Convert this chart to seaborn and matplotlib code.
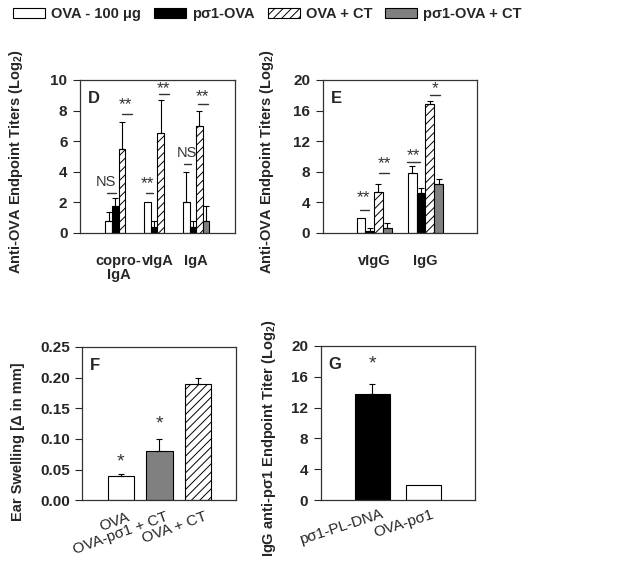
import numpy as np
import pandas as pd
import seaborn as sns
import matplotlib.pyplot as plt
from matplotlib.patches import Patch
from matplotlib.container import BarContainer
from matplotlib.transforms import ScaledTranslation

# treatment groups shared by panels D and E
treatments = ["OVA - 100 μg", "pσ1-OVA", "OVA + CT", "pσ1-OVA + CT"]
tr_colors = ["white", "black", "white", "#808080"]
tr_hatch = ["", "", "////", ""]

# panel D - IgA titers (mean, upper error)
d_groups = ["copro-\nIgA", "vIgA", "IgA"]
d_ova = [0.8, 2.0, 2.0]
d_ova_err = [0.6, 0.0, 2.0]
d_p1ova = [1.75, 0.4, 0.4]
d_p1ova_err = [0.55, 0.4, 0.4]
d_ovact = [5.5, 6.5, 7.0]
d_ovact_err = [1.75, 2.2, 1.0]
d_p1ovact = [np.nan, np.nan, 0.8]
d_p1ovact_err = [np.nan, np.nan, 0.95]

# panel E - IgG titers
e_groups = ["vIgG", "IgG"]
e_ova = [1.9, 7.9]
e_ova_err = [0.0, 0.8]
e_p1ova = [0.2, 5.2]
e_p1ova_err = [0.45, 0.7]
e_ovact = [5.3, 16.8]
e_ovact_err = [1.1, 0.5]
e_p1ovact = [0.65, 6.4]
e_p1ovact_err = [0.6, 0.6]

# panel F - ear swelling
f_groups = ["OVA", "OVA-pσ1 + CT", "OVA + CT"]
f_vals = [0.04, 0.08, 0.19]
f_err = [0.002, 0.02, 0.01]

# panel G - anti-pσ1 IgG
g_groups = ["pσ1-PL-DNA", "OVA-pσ1"]
g_vals = [13.8, 2.0]
g_err = [1.3, 0.0]

sns.set_style("ticks")
plt.rcParams['font.family'] = ['Liberation Sans', 'DejaVu Sans']
plt.rcParams['mathtext.fontset'] = 'custom'
plt.rcParams['mathtext.rm'] = 'Liberation Sans:bold'
plt.rcParams['hatch.color'] = 'black'
plt.rcParams['hatch.linewidth'] = 0.7
plt.rcParams['axes.edgecolor'] = '#333333'
plt.rcParams['axes.linewidth'] = 0.9

fig = plt.figure(figsize=(6.34, 5.71), dpi=100)
axD = fig.add_axes([0.126, 0.592, 0.2445, 0.268])
axE = fig.add_axes([0.509, 0.592, 0.243, 0.268])
axF = fig.add_axes([0.130, 0.124, 0.243, 0.2685])
axG = fig.add_axes([0.506, 0.124, 0.243, 0.2705])

ylab = "Anti-OVA Endpoint Titers (Log$_2$)"


def bar_sets(ax):
    return [c for c in ax.containers if isinstance(c, BarContainer)]


def add_errors(ax, errs):
    for hi, cont in enumerate(bar_sets(ax)):
        for bar in cont:
            x = bar.get_x() + bar.get_width() / 2
            e = errs[hi][int(round(x))]
            if e > 0:
                ax.errorbar(x, bar.get_height(), yerr=[[0], [e]], color='black',
                            lw=0.8, capsize=2.5, capthick=0.8)


def grouped(ax, groups, series, errs):
    df = pd.DataFrame({"group": groups * 4,
                       "treatment": np.repeat(treatments, len(groups)),
                       "value": np.concatenate(series)})
    sns.barplot(data=df, x="group", y="value", hue="treatment", order=groups,
                hue_order=treatments, palette=tr_colors, saturation=1, width=0.68,
                edgecolor="black", linewidth=0.8, errorbar=None, legend=False, ax=ax)
    for hi, cont in enumerate(bar_sets(ax)):
        for bar in cont:
            bar.set_hatch(tr_hatch[hi])
    add_errors(ax, errs)


def style(ax, ylim, yticks, label, xlim):
    ax.set_ylim(*ylim)
    ax.set_yticks(yticks)
    ax.set_xlim(*xlim)
    ax.set_xlabel("")
    ax.set_ylabel(label, fontsize=10.5, fontweight='bold')
    ax.tick_params(axis='y', length=5, width=0.8, pad=4, labelsize=11)
    for t in ax.get_yticklabels():
        t.set_fontweight('bold')


def mark(ax, text, x, y, x0, x1, yl, size=12.5):
    ax.text(x, y, text, ha='center', va='center', fontsize=size, color='#333333')
    ax.plot([x0, x1], [yl, yl], color='#333333', lw=1)


def slanted(ax, labels, angle, dx):
    ax.set_xticklabels(labels, fontsize=11, rotation=angle, ha='right', va='top',
                       rotation_mode='anchor')
    for t in ax.get_xticklabels():
        t.set_transform(t.get_transform() + ScaledTranslation(dx, 0, fig.dpi_scale_trans))


# panel D
grouped(axD, d_groups, [d_ova, d_p1ova, d_ovact, d_p1ovact],
        [d_ova_err, d_p1ova_err, d_ovact_err, d_p1ovact_err])
style(axD, (0, 10), [0, 2, 4, 6, 8, 10], ylab, (-1, 3))
axD.set_xticks([0, 1, 2])
axD.set_xticklabels(d_groups, fontsize=10.5, fontweight='bold', multialignment='center',
                    linespacing=1.0)
axD.set_xticks([0, 2], minor=True)
axD.tick_params(axis='x', which='major', length=0, pad=15)
axD.tick_params(axis='x', which='minor', length=6, width=0.8)
axD.yaxis.set_label_coords(-0.355, 0.467)
axD.text(0.05, 0.88, "D", transform=axD.transAxes, fontsize=12, fontweight='bold', va='center')
mark(axD, "NS", -0.32, 3.3, -0.31, -0.07, 2.6, 10.5)
mark(axD, "**", 0.18, 8.4, 0.09, 0.35, 7.75)
mark(axD, "**", 0.74, 3.25, 0.70, 0.88, 2.6)
mark(axD, "**", 1.16, 9.45, 1.04, 1.30, 9.05)
mark(axD, "NS", 1.76, 5.2, 1.68, 1.86, 4.5, 10.5)
mark(axD, "**", 2.17, 8.9, 2.05, 2.30, 8.4)

# panel E
grouped(axE, e_groups, [e_ova, e_p1ova, e_ovact, e_p1ovact],
        [e_ova_err, e_p1ova_err, e_ovact_err, e_p1ovact_err])
style(axE, (0, 20), [0, 4, 8, 12, 16, 20], ylab, (-1, 2))
axE.set_xticks([0, 1])
axE.set_xticklabels(e_groups, fontsize=10.5, fontweight='bold')
axE.set_xticks([0, 1], minor=True)
axE.tick_params(axis='x', which='major', length=0, pad=15)
axE.tick_params(axis='x', which='minor', length=7, width=0.8)
axE.yaxis.set_label_coords(-0.30, 0.467)
axE.text(0.05, 0.88, "E", transform=axE.transAxes, fontsize=12, fontweight='bold', va='center')
mark(axE, "**", -0.20, 4.6, -0.28, -0.10, 3.05)
mark(axE, "**", 0.21, 9.1, 0.09, 0.29, 7.9)
mark(axE, "**", 0.77, 10.1, 0.65, 0.89, 9.25)
mark(axE, "*", 1.18, 18.8, 1.08, 1.28, 18.0)

# panel F
sns.barplot(x=f_groups, y=f_vals, hue=f_groups, palette=["white", "#808080", "white"],
            saturation=1, width=0.68, edgecolor="black", linewidth=0.8,
            errorbar=None, legend=False, ax=axF)
bar_sets(axF)[2][0].set_hatch("////")
add_errors(axF, [f_err] * 3)
style(axF, (0, 0.25), [0, 0.05, 0.10, 0.15, 0.20, 0.25], "Ear Swelling [Δ in mm]", (-1, 3))
axF.set_yticklabels(["0.00", "0.05", "0.10", "0.15", "0.20", "0.25"], fontweight='bold')
axF.tick_params(axis='x', length=0, pad=7)
axF.set_xticks([0, 1, 2])
slanted(axF, f_groups, 20, 0.06)
axF.yaxis.set_label_coords(-0.375, 0.38)
axF.text(0.05, 0.88, "F", transform=axF.transAxes, fontsize=12, fontweight='bold', va='center')
axF.text(0, 0.0625, "*", ha='center', va='center', fontsize=14, color='#333333')
axF.text(1, 0.124, "*", ha='center', va='center', fontsize=14, color='#333333')

# panel G
sns.barplot(x=g_groups, y=g_vals, hue=g_groups, palette=["black", "white"],
            saturation=1, width=0.68, edgecolor="black", linewidth=0.8,
            errorbar=None, legend=False, ax=axG)
add_errors(axG, [g_err] * 2)
style(axG, (0, 20), [0, 4, 8, 12, 16, 20],
      "IgG anti-pσ1 Endpoint Titer (Log$_2$)", (-1, 2))
axG.tick_params(axis='x', length=0, pad=5)
axG.set_xticks([0, 1])
slanted(axG, g_groups, 18, 0.08)
axG.yaxis.set_label_coords(-0.28, 0.40)
axG.text(0.05, 0.88, "G", transform=axG.transAxes, fontsize=12, fontweight='bold', va='center')
axG.text(0, 17.7, "*", ha='center', va='center', fontsize=14, color='#333333')

# legend across the top
handles = [Patch(facecolor=c, edgecolor='black', hatch=h, linewidth=0.8)
           for c, h in zip(tr_colors, tr_hatch)]
fig.legend(handles, treatments, loc='center left', bbox_to_anchor=(0.0, 0.975),
           ncol=4, frameon=False, prop={'weight': 'bold', 'size': 10.5},
           handlelength=2.2, handleheight=0.7, handletextpad=0.4, columnspacing=0.9)

fig.savefig("out.png", dpi=100)
